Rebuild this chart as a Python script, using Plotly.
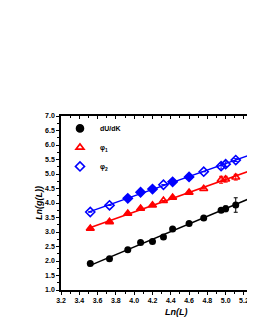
import numpy as np
import plotly.graph_objects as go

# ---- data ----
ln_L = [3.52, 3.73, 3.93, 4.07, 4.20, 4.32, 4.42, 4.60, 4.76, 4.95, 5.00, 5.11, 5.30]

dUdK = [1.91, 2.08, 2.39, 2.64, 2.67, 2.83, 3.10, 3.29, 3.48, 3.75, 3.80, 3.93, 4.25]
dUdK_err = [0, 0, 0, 0, 0, 0, 0, 0, 0, 0.05, 0.10, 0.25, 0.05]

phi1 = [3.12, 3.35, 3.64, 3.81, 3.92, 4.08, 4.19, 4.36, 4.49, 4.80, 4.82, 4.89, 5.15]
phi1_err = [0, 0, 0, 0, 0, 0, 0, 0, 0, 0.12, 0.10, 0.10, 0.10]

phi2 = [3.69, 3.92, 4.16, 4.37, 4.48, 4.63, 4.73, 4.90, 5.08, 5.27, 5.34, 5.48, 5.73]
phi2_err = [0, 0, 0, 0, 0, 0, 0, 0, 0, 0.10, 0.08, 0.05, 0.10]

series_names = ["dU/dK", "φ<sub>1</sub>", "φ<sub>2</sub>"]
x_ticks = [3.2, 3.4, 3.6, 3.8, 4.0, 4.2, 4.4, 4.6, 4.8, 5.0, 5.2]
y_ticks = [1.0, 1.5, 2.0, 2.5, 3.0, 3.5, 4.0, 4.5, 5.0, 5.5, 6.0, 6.5, 7.0]

# ---- styling ----
tri_sym = ["triangle-up"] * 5 + ["triangle-up-open", "triangle-up", "triangle-up",
                                  "triangle-up-open", "triangle-up-open", "triangle-up-open",
                                  "triangle-up-open", "triangle-up-open"]
dia_sym = ["diamond-open", "diamond-open", "diamond", "diamond", "diamond",
           "diamond-open", "diamond", "diamond", "diamond-open", "diamond-open",
           "diamond-open", "diamond-open", "diamond-open"]

FONT = "Liberation Sans, Arial, sans-serif"
X_RANGE = [3.2, 5.408]
fig = go.Figure()

def fit_line(x, y, color):
    x = np.asarray(x)
    k, b = np.polyfit(x, y, 1)
    xs = np.array([x.min() - 0.02, X_RANGE[1]])
    fig.add_trace(go.Scatter(x=xs, y=k * xs + b, mode="lines",
                             line=dict(color=color, width=1.5),
                             showlegend=False, hoverinfo="skip"))

fit_line(ln_L, dUdK, "black")
fit_line(ln_L, phi1, "red")
fit_line(ln_L, phi2, "blue")

fig.add_trace(go.Scatter(
    x=ln_L, y=dUdK, mode="markers", name=series_names[0], showlegend=False,
    marker=dict(symbol="circle", size=7, color="black"),
    error_y=dict(type="data", array=dUdK_err, color="black", thickness=1, width=2)))
fig.add_trace(go.Scatter(
    x=ln_L, y=phi1, mode="markers", name=series_names[1], showlegend=False,
    marker=dict(symbol=tri_sym, size=7, color="red", line=dict(color="red", width=1.6)),
    error_y=dict(type="data", array=phi1_err, color="red", thickness=1, width=2)))
fig.add_trace(go.Scatter(
    x=ln_L, y=phi2, mode="markers", name=series_names[2], showlegend=False,
    marker=dict(symbol=dia_sym, size=7, color="blue", line=dict(color="blue", width=1.6)),
    error_y=dict(type="data", array=phi2_err, color="blue", thickness=1, width=2)))

# legend-only entries (the reference legend shows open symbols)
for name, sym, col in [(series_names[0], "circle", "black"),
                       (series_names[1], "triangle-up-open", "red"),
                       (series_names[2], "diamond-open", "blue")]:
    fig.add_trace(go.Scatter(x=[None], y=[None], mode="markers", name=name,
                             marker=dict(symbol=sym, size=7, color=col,
                                         line=dict(color=col, width=1.6))))

tickfont = dict(family=FONT, size=7, color="black", weight="bold")

fig.update_layout(
    width=255, height=330,
    margin=dict(l=53, r=0, t=108, b=48, autoexpand=False),
    paper_bgcolor="white", plot_bgcolor="white",
    showlegend=True,
    legend=dict(x=-0.005, y=1.012, xanchor="left", yanchor="top",
                bgcolor="rgba(0,0,0,0)", borderwidth=0,
                font=dict(family=FONT, size=7, color="black", weight="bold"),
                itemwidth=30, tracegroupgap=0),
    xaxis=dict(range=X_RANGE, tickvals=x_ticks, ticktext=[f"{v:.1f}" for v in x_ticks],
               automargin=False,
               showgrid=False, zeroline=False, showline=True, linecolor="black", linewidth=1.6,
               ticks="outside", ticklen=3, tickwidth=1, tickcolor="black",
               minor=dict(dtick=0.1, ticks="outside", ticklen=2, tickcolor="black", tickwidth=1),
               tickfont=tickfont, mirror=False),
    xaxis2=dict(overlaying="x", side="top", matches="x", range=X_RANGE, automargin=False,
                tickvals=x_ticks, showticklabels=False, showgrid=False, zeroline=False,
                showline=True, linecolor="black", linewidth=1.6,
                ticks="inside", ticklen=3, tickwidth=1, tickcolor="black",
                minor=dict(dtick=0.1, ticks="inside", ticklen=2, tickcolor="black", tickwidth=1)),
    yaxis=dict(range=[1.0, 7.0], tickvals=y_ticks, ticktext=[f"{v:.1f}" for v in y_ticks],
               automargin=False,
               showgrid=False, zeroline=False, showline=True, linecolor="black", linewidth=1.6,
               ticks="outside", ticklen=3, tickwidth=1, tickcolor="black",
               minor=dict(dtick=0.25, ticks="outside", ticklen=2, tickcolor="black", tickwidth=1),
               tickfont=tickfont),
    annotations=[
        dict(text="<b><i>Ln(L)</i></b>", xref="paper", yref="paper", x=0.573, y=-0.126,
             xanchor="center", yanchor="middle", showarrow=False,
             font=dict(family=FONT, size=9, color="black")),
        dict(text="<b><i>Ln(g(L))</i></b>", xref="paper", yref="paper", x=-0.109, y=0.5,
             xanchor="center", yanchor="middle", textangle=-90, showarrow=False,
             font=dict(family=FONT, size=9, color="black")),
    ],
)
# invisible trace so the top mirror axis is drawn
fig.add_trace(go.Scatter(x=[ln_L[0]], y=[dUdK[0]], xaxis="x2", mode="markers",
                         marker=dict(opacity=0), showlegend=False, hoverinfo="skip"))

fig.write_html("out.html")
